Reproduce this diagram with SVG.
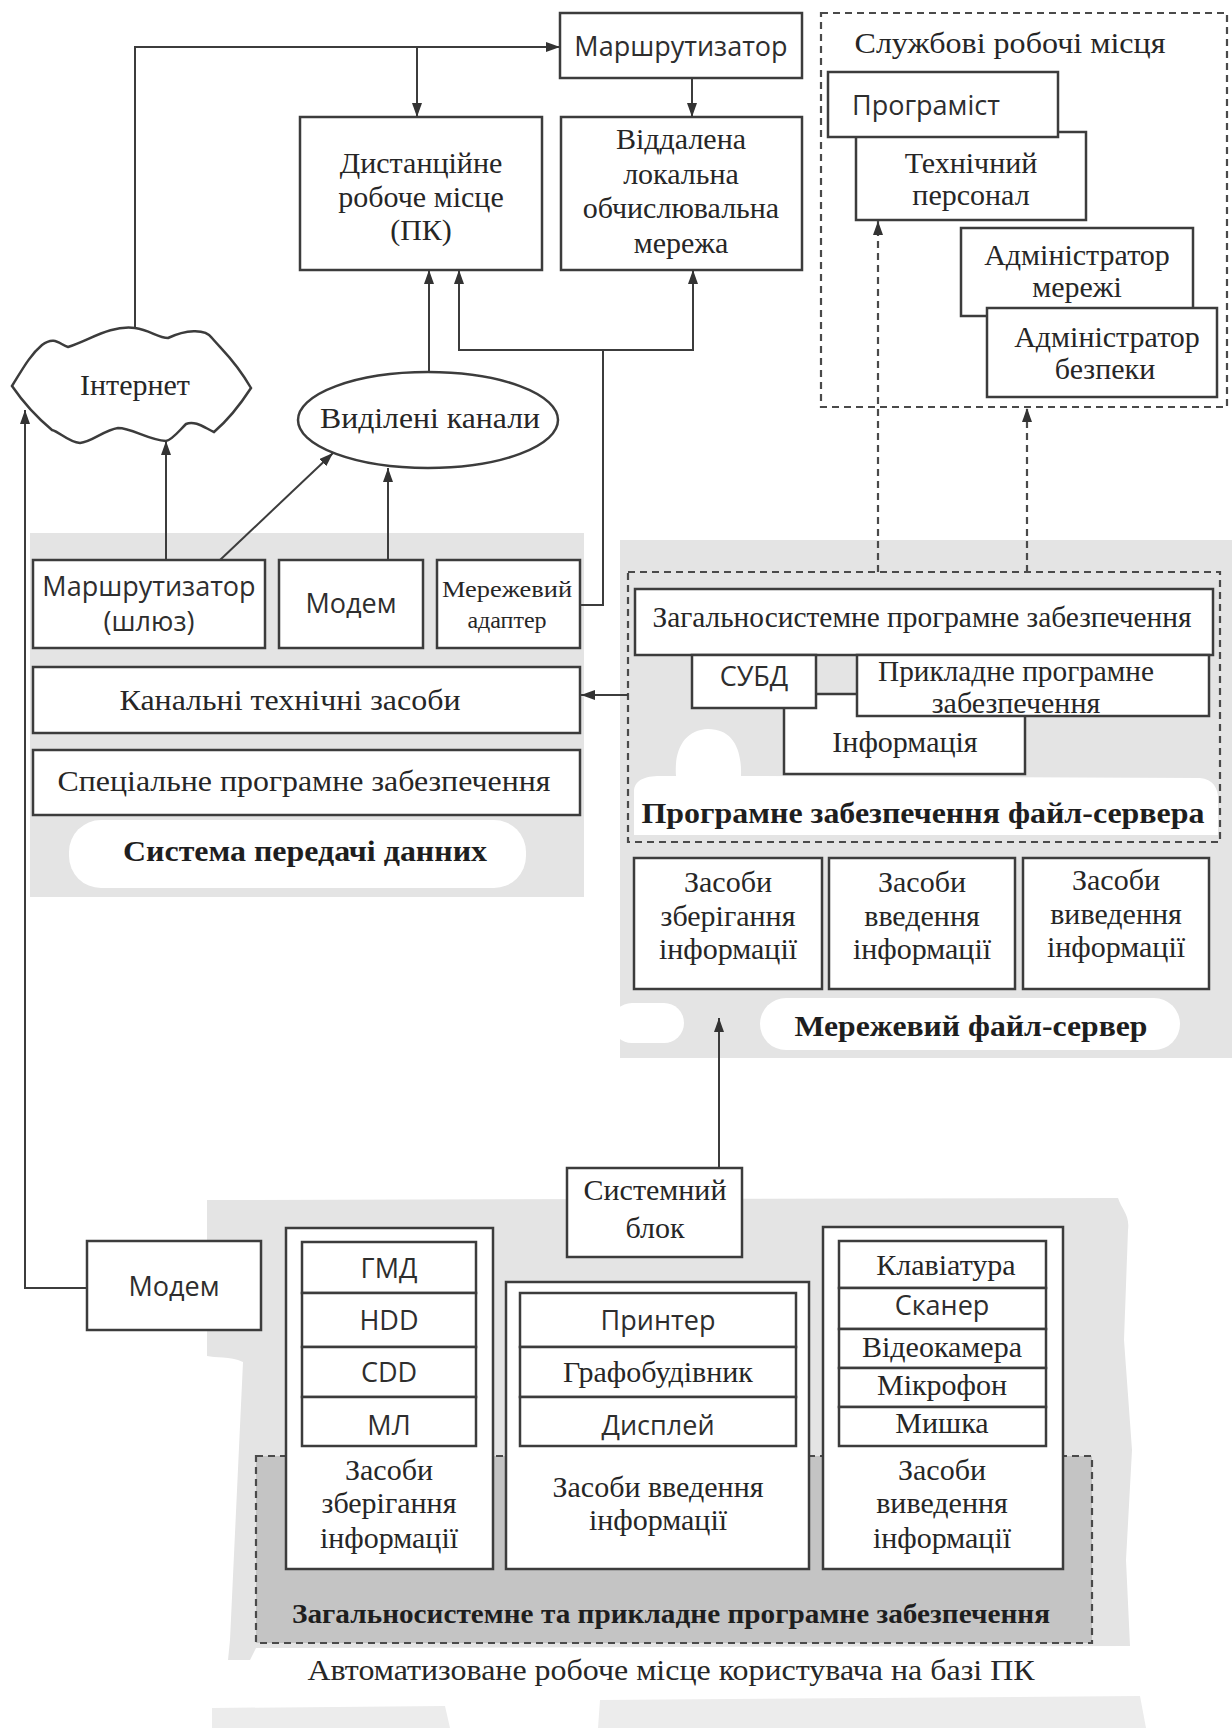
<svg xmlns="http://www.w3.org/2000/svg" width="1232" height="1728" viewBox="0 0 1232 1728">
<defs>
<style>
.bg{fill:#e4e4e4}
.bg3{fill:#ececec}
.bg2{fill:#c4c4c4;stroke:#4a4a4a;stroke-width:2.2;stroke-dasharray:7 5}
.wh{fill:#fff}
.box{fill:#fff;stroke:#3c3c3c;stroke-width:2.5}
.ln{fill:none;stroke:#3c3c3c;stroke-width:2}
.dsh{fill:none;stroke:#4a4a4a;stroke-width:2.2;stroke-dasharray:7 5}
.t{font-family:"Liberation Serif","DejaVu Serif",serif;font-size:30px;fill:#262626;text-anchor:middle}
.sm{font-size:24px}
.s{font-family:"Open Sans","Noto Sans",sans-serif;font-size:27px;fill:#2e2e2e;text-anchor:middle}
.b{font-family:"Liberation Serif","DejaVu Serif",serif;font-weight:bold;font-size:30px;fill:#1e1e1e;text-anchor:middle}
</style>
<marker id="ah" viewBox="0 0 14 10" refX="14" refY="5" markerWidth="14" markerHeight="10" orient="auto" markerUnits="userSpaceOnUse"><path d="M0,0 L14,5 L0,10 Z" fill="#333"/></marker>
</defs>
<rect width="1232" height="1728" fill="#fff"/>

<!-- shaded backdrops of the three subsystems -->
<g id="backdrops">
  <rect class="bg" x="30" y="533" width="554" height="364"/>
  <rect class="wh" x="69" y="820" width="457" height="68" rx="32"/>
  <rect class="bg" x="620" y="540" width="612" height="518"/>
  <path class="wh" d="M634 835 L634 792 C634 780 645 776 660 776 L676 776 C674 750 684 730 708 729 C732 729 742 748 741 776 L1200 778 C1214 779 1219 790 1218 802 L1218 835 Z"/>
  <rect class="wh" x="760" y="998" width="420" height="52" rx="26"/>
  <rect class="wh" x="612" y="1003" width="72" height="40" rx="20"/>
  <path class="bg" d="M207 1200 L1118 1198 C1122 1210 1130 1215 1128 1230 L1124 1340 L1132 1450 L1126 1560 L1130 1646 L256 1648 L250 1660 L228 1660 L230 1640 L243 1362 C230 1356 215 1358 207 1356 Z"/>
  <path class="bg3" d="M212 1708 L445 1706 L450 1728 L212 1728 Z M600 1700 L1140 1696 L1146 1728 L598 1728 Z"/>
</g>

<!-- service workplaces -->
<g id="service-workplaces">
  <rect class="dsh" x="821" y="13" width="406" height="394"/>
  <text class="t" x="1010" y="53" textLength="311" lengthAdjust="spacingAndGlyphs">Службові робочі місця</text>
</g>
<g id="n-tech">
  <rect class="box" x="856" y="132" width="230" height="88"/>
  <text class="t" x="971" y="173">Технічний</text>
  <text class="t" x="971" y="205">персонал</text>
</g>
<g id="n-programmer">
  <rect class="box" x="828" y="72" width="230" height="65"/>
  <text class="s" x="852" y="115" style="text-anchor:start">Програміст</text>
</g>
<g id="n-netadmin">
  <rect class="box" x="961" y="228" width="232" height="88"/>
  <text class="t" x="1077" y="265">Адміністратор</text>
  <text class="t" x="1077" y="297">мережі</text>
</g>
<g id="n-secadmin">
  <rect class="box" x="987" y="308" width="230" height="89"/>
  <text class="t" x="1107" y="347">Адміністратор</text>
  <text class="t" x="1105" y="379">безпеки</text>
</g>

<!-- remote side -->
<g id="n-router-top">
  <rect class="box" x="560" y="13" width="242" height="65"/>
  <text class="s" x="681" y="56">Маршрутизатор</text>
</g>
<g id="n-remote-pc">
  <rect class="box" x="300" y="117" width="242" height="153"/>
  <text class="t" x="421" y="173">Дистанційне</text>
  <text class="t" x="421" y="207">робоче місце</text>
  <text class="t" x="421" y="240">(ПК)</text>
</g>
<g id="n-remote-lan">
  <rect class="box" x="561" y="117" width="241" height="153"/>
  <text class="t" x="681" y="149">Віддалена</text>
  <text class="t" x="681" y="184">локальна</text>
  <text class="t" x="681" y="218">обчислювальна</text>
  <text class="t" x="681" y="253">мережа</text>
</g>
<g id="n-internet">
  <path class="box" d="M12 386 C22 370 30 355 42 345 C55 335 60 345 68 347 C90 340 110 325 135 328 C150 330 158 338 168 338 C185 330 205 328 212 338 C222 350 235 360 251 388 C240 405 228 420 214 432 C205 428 195 420 186 424 C178 432 172 440 166 441 C148 440 132 428 118 428 C104 430 92 442 80 443 C68 442 60 432 52 430 C40 420 25 405 12 386 Z"/>
  <text class="t" x="135" y="395">Інтернет</text>
</g>
<g id="n-leased">
  <ellipse class="box" cx="428" cy="420" rx="130" ry="48"/>
  <text class="t" x="430" y="428" textLength="220" lengthAdjust="spacingAndGlyphs">Виділені канали</text>
</g>

<!-- data transmission system -->
<g id="n-gateway">
  <rect class="box" x="33" y="560" width="232" height="88"/>
  <text class="s" x="149" y="596">Маршрутизатор</text>
  <text class="s" x="149" y="631">(шлюз)</text>
</g>
<g id="n-modem1">
  <rect class="box" x="279" y="560" width="144" height="88"/>
  <text class="s" x="351" y="613">Модем</text>
</g>
<g id="n-netadapter">
  <rect class="box" x="437" y="560" width="143" height="88"/>
  <text class="t sm" x="507" y="597" textLength="130" lengthAdjust="spacingAndGlyphs">Мережевий</text>
  <text class="t sm" x="507" y="628">адаптер</text>
</g>
<g id="n-channel">
  <rect class="box" x="33" y="667" width="547" height="66"/>
  <text class="t" x="290" y="710" textLength="341" lengthAdjust="spacingAndGlyphs">Канальні технічні засоби</text>
</g>
<g id="n-special">
  <rect class="box" x="33" y="750" width="547" height="65"/>
  <text class="t" x="304" y="791" textLength="493" lengthAdjust="spacingAndGlyphs">Спеціальне програмне забезпечення</text>
</g>
<g id="t-transmission">
  <text class="b" x="305" y="861" textLength="364" lengthAdjust="spacingAndGlyphs">Система передачі данних</text>
</g>

<!-- network file server -->
<g id="n-fs-soft">
  <rect class="dsh" x="628" y="572" width="592" height="270"/>
  <text class="b" x="923" y="823" textLength="563" lengthAdjust="spacingAndGlyphs">Програмне забезпечення файл-сервера</text>
</g>
<g id="n-gen-sw">
  <rect class="box" x="635" y="589" width="578" height="66"/>
  <text class="t" x="922" y="627" textLength="539" lengthAdjust="spacingAndGlyphs">Загальносистемне програмне забезпечення</text>
</g>
<g id="n-info">
  <rect class="box" x="784" y="694" width="241" height="80"/>
  <text class="t" x="905" y="752">Інформація</text>
</g>
<g id="n-dbms">
  <rect class="box" x="692" y="655" width="124" height="53"/>
  <text class="s" x="754" y="686">СУБД</text>
</g>
<g id="n-app-sw">
  <rect class="box" x="857" y="655" width="352" height="61"/>
  <text class="t" x="1016" y="681" textLength="276" lengthAdjust="spacingAndGlyphs">Прикладне програмне</text>
  <text class="t" x="1016" y="713">забезпечення</text>
</g>
<g id="n-fs-store">
  <rect class="box" x="634" y="858" width="188" height="131"/>
  <text class="t" x="728" y="892">Засоби</text>
  <text class="t" x="728" y="926">зберігання</text>
  <text class="t" x="728" y="959">інформації</text>
</g>
<g id="n-fs-in">
  <rect class="box" x="829" y="858" width="186" height="131"/>
  <text class="t" x="922" y="892">Засоби</text>
  <text class="t" x="922" y="926">введення</text>
  <text class="t" x="922" y="959">інформації</text>
</g>
<g id="n-fs-out">
  <rect class="box" x="1023" y="858" width="186" height="131"/>
  <text class="t" x="1116" y="890">Засоби</text>
  <text class="t" x="1116" y="924">виведення</text>
  <text class="t" x="1116" y="957">інформації</text>
</g>
<g id="t-fileserver">
  <text class="b" x="971" y="1036" textLength="353" lengthAdjust="spacingAndGlyphs">Мережевий файл-сервер</text>
</g>

<!-- user workplace -->
<g id="n-workplace-sw">
  <rect class="bg2" x="256" y="1456" width="836" height="187"/>
  <text class="b" x="671" y="1623" textLength="758" lengthAdjust="spacingAndGlyphs" style="font-size:28px">Загальносистемне та прикладне програмне забезпечення</text>
</g>
<g id="n-modem2">
  <rect class="box" x="87" y="1241" width="174" height="89"/>
  <text class="s" x="174" y="1296">Модем</text>
</g>
<g id="n-sysunit">
  <rect class="box" x="567" y="1168" width="175" height="89"/>
  <text class="t" x="655" y="1200">Системний</text>
  <text class="t" x="655" y="1238">блок</text>
</g>
<g id="n-storage">
  <rect class="box" x="286" y="1228" width="207" height="341"/>
  <rect class="box" x="302" y="1242" width="174" height="51"/>
  <rect class="box" x="302" y="1293" width="174" height="54"/>
  <rect class="box" x="302" y="1347" width="174" height="50"/>
  <rect class="box" x="302" y="1397" width="174" height="49"/>
  <text class="s" x="389" y="1278">ГМД</text>
  <text class="s" x="389" y="1330">HDD</text>
  <text class="s" x="389" y="1382">CDD</text>
  <text class="s" x="389" y="1435">МЛ</text>
  <text class="t" x="389" y="1480">Засоби</text>
  <text class="t" x="389" y="1513">зберігання</text>
  <text class="t" x="389" y="1548">інформації</text>
</g>
<g id="n-output">
  <rect class="box" x="506" y="1282" width="303" height="287"/>
  <rect class="box" x="520" y="1293" width="276" height="54"/>
  <rect class="box" x="520" y="1347" width="276" height="50"/>
  <rect class="box" x="520" y="1397" width="276" height="49"/>
  <text class="s" x="658" y="1330">Принтер</text>
  <text class="t" x="658" y="1382">Графобудівник</text>
  <text class="s" x="658" y="1435">Дисплей</text>
  <text class="t" x="658" y="1497">Засоби введення</text>
  <text class="t" x="658" y="1530">інформації</text>
</g>
<g id="n-input">
  <rect class="box" x="823" y="1227" width="240" height="342"/>
  <rect class="box" x="839" y="1241" width="207" height="47"/>
  <rect class="box" x="839" y="1288" width="207" height="41"/>
  <rect class="box" x="839" y="1329" width="207" height="39"/>
  <rect class="box" x="839" y="1368" width="207" height="39"/>
  <rect class="box" x="839" y="1407" width="207" height="39"/>
  <text class="t" x="946" y="1275">Клавіатура</text>
  <text class="s" x="942" y="1315">Сканер</text>
  <text class="t" x="942" y="1357">Відеокамера</text>
  <text class="t" x="942" y="1395">Мікрофон</text>
  <text class="t" x="942" y="1433">Мишка</text>
  <text class="t" x="942" y="1480">Засоби</text>
  <text class="t" x="942" y="1513">виведення</text>
  <text class="t" x="942" y="1548">інформації</text>
</g>
<g id="t-workplace">
  <text class="t" x="671" y="1680" textLength="727" lengthAdjust="spacingAndGlyphs" style="font-size:29px">Автоматизоване робоче місце користувача на базі ПК</text>
</g>

<!-- connectors -->
<g id="connectors">
  <path class="ln" d="M135 328 V47 H560" marker-end="url(#ah)"/>
  <path class="ln" d="M417 47 V117" marker-end="url(#ah)"/>
  <path class="ln" d="M692 78 V117" marker-end="url(#ah)"/>
  <path class="ln" d="M429 372 V270" marker-end="url(#ah)"/>
  <path class="ln" d="M580 605 H603 V350"/>
  <path class="ln" d="M603 350 H459 V270" marker-end="url(#ah)"/>
  <path class="ln" d="M603 350 H693 V270" marker-end="url(#ah)"/>
  <path class="ln" d="M166 560 V441" marker-end="url(#ah)"/>
  <path class="ln" d="M220 560 L333 453" marker-end="url(#ah)"/>
  <path class="ln" d="M388 560 V468" marker-end="url(#ah)"/>
  <path class="ln" d="M87 1288 H25 V410" marker-end="url(#ah)"/>
  <path class="ln" d="M628 695 H581" marker-end="url(#ah)"/>
  <path class="dsh" d="M878 572 V221" marker-end="url(#ah)"/>
  <path class="dsh" d="M1027 572 V408" marker-end="url(#ah)"/>
  <path class="ln" d="M719 1168 V1018" marker-end="url(#ah)"/>
</g>
</svg>
